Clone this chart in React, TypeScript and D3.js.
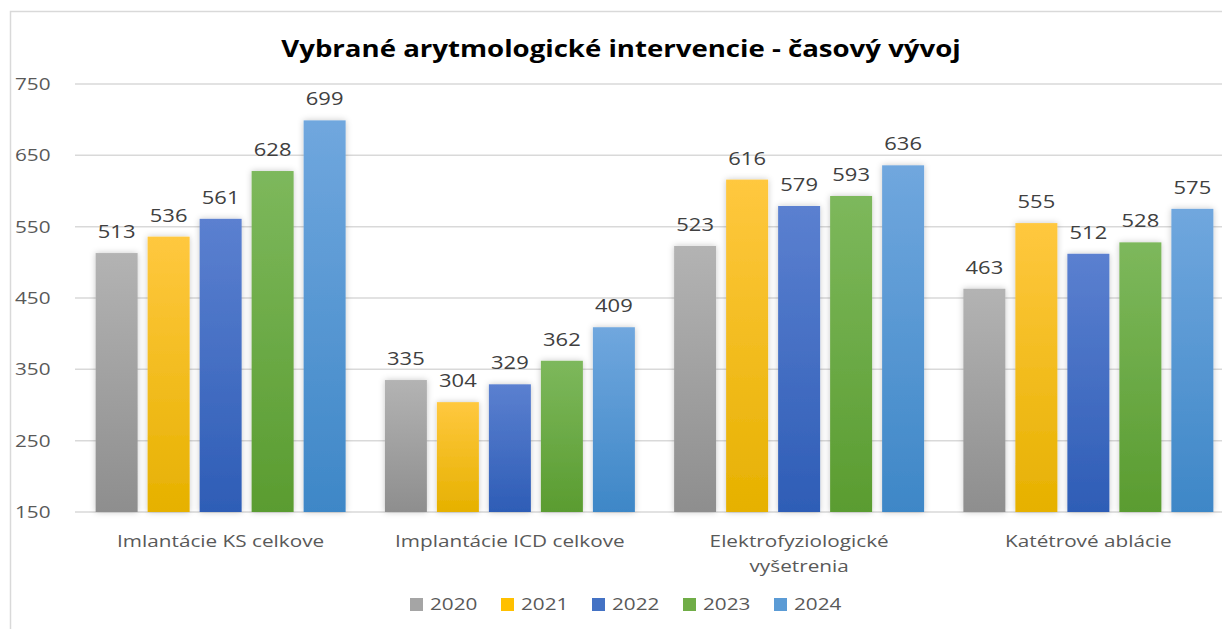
import React from "react";
import * as d3 from "d3";

const W = 1222;
const H = 629;

const categories = [
  ["Imlantácie KS celkove"],
  ["Implantácie ICD celkove"],
  ["Elektrofyziologické", "vyšetrenia"],
  ["Katétrové ablácie"],
];
const years = ["2020", "2021", "2022", "2023", "2024"];
const values2020 = [513, 335, 523, 463];
const values2021 = [536, 304, 616, 555];
const values2022 = [561, 329, 579, 512];
const values2023 = [628, 362, 593, 528];
const values2024 = [699, 409, 636, 575];
const yTicks = [150, 250, 350, 450, 550, 650, 750];

const series = [values2020, values2021, values2022, values2023, values2024];
// top / bottom gradient stops per year
const colors = [
  ["#b3b3b3", "#8e8e8e"],
  ["#ffc83f", "#e6b100"],
  ["#5b80d0", "#2e5db6"],
  ["#7db85c", "#5a9c30"],
  ["#70a7de", "#3e87c7"],
];
const legendColors = ["#a5a5a5", "#ffc000", "#4472c4", "#70ad47", "#5b9bd5"];

const FONT = "'Open Sans', sans-serif";
const SX = 1.22; // the source picture is stretched sideways

// text stretched horizontally around its anchor point
const T = ({ x, y, sx = SX, children, ...rest }: any) => (
  <g transform={`translate(${x},${y}) scale(${sx},1)`}>
    <text x={0} y={0} {...rest}>
      {children}
    </text>
  </g>
);

export default function App() {
  // plot runs past the right edge of the picture (chart was cropped)
  const m = { left: 76, right: 1233, top: 84, bottom: 512 };
  const x = d3
    .scaleBand<number>()
    .domain(d3.range(categories.length))
    .range([m.left, m.right]);
  const y = d3.scaleLinear().domain([150, 750]).range([m.bottom, m.top]);

  const barW = 42;
  const barStep = 52;

  return (
    <svg
      width={W}
      height={H}
      style={{ position: "fixed", left: 0, top: 0, background: "#fff" }}
      fontFamily={FONT}
    >
      <defs>
        {colors.map((c, i) => (
          <linearGradient key={i} id={`g${i}`} x1="0" y1="0" x2="0" y2="1">
            <stop offset="0%" stopColor={c[0]} />
            <stop offset="100%" stopColor={c[1]} />
          </linearGradient>
        ))}
        <filter id="sh" x="-30%" y="-10%" width="160%" height="120%">
          <feDropShadow dx="0" dy="0" stdDeviation="3" floodColor="#000" floodOpacity="0.22" />
        </filter>
      </defs>

      {/* frame */}
      <path d={`M10.5,${H} V11.5 H${W}`} fill="none" stroke="#d9d9d9" strokeWidth={1.5} />

      <T x={621} y={57} sx={1.2} textAnchor="middle" fontSize={23} fontWeight="bold" fill="#000">
        Vybrané arytmologické intervencie - časový vývoj
      </T>

      {yTicks.map((t) => (
        <g key={t}>
          <line x1={m.left - 1} x2={W} y1={y(t)} y2={y(t)} stroke="#d9d9d9" strokeWidth={1.5} />
          <T x={15} y={y(t)} dy="0.35em" fontSize={17} fill="#595959">
            {t}
          </T>
        </g>
      ))}

      {categories.map((cat, ci) => {
        const cx = x(ci)! + x.bandwidth() / 2;
        const start = cx - (barStep * (years.length - 1) + barW) / 2;
        return (
          <g key={ci}>
            {series.map((s, si) => {
              const bx = start + si * barStep;
              const v = s[ci];
              return (
                <g key={si}>
                  <rect
                    x={bx}
                    y={y(v)}
                    width={barW}
                    height={y(150) - y(v)}
                    fill={`url(#g${si})`}
                    filter="url(#sh)"
                  />
                  <T
                    x={bx + barW / 2}
                    y={y(v) - 15}
                    textAnchor="middle"
                    fontSize={18}
                    fill="#404040"
                  >
                    {v}
                  </T>
                </g>
              );
            })}
            {cat.map((line, li) => (
              <T
                key={li}
                x={cx}
                y={547 + li * 25}
                textAnchor="middle"
                fontSize={17}
                fill="#595959"
              >
                {line}
              </T>
            ))}
          </g>
        );
      })}

      {years.map((yr, i) => {
        const lx = 410 + i * 91;
        return (
          <g key={yr}>
            <rect x={lx} y={598} width={13} height={13} fill={legendColors[i]} />
            <T x={lx + 20} y={604.5} dy="0.35em" fontSize={17} fill="#595959">
              {yr}
            </T>
          </g>
        );
      })}
    </svg>
  );
}
